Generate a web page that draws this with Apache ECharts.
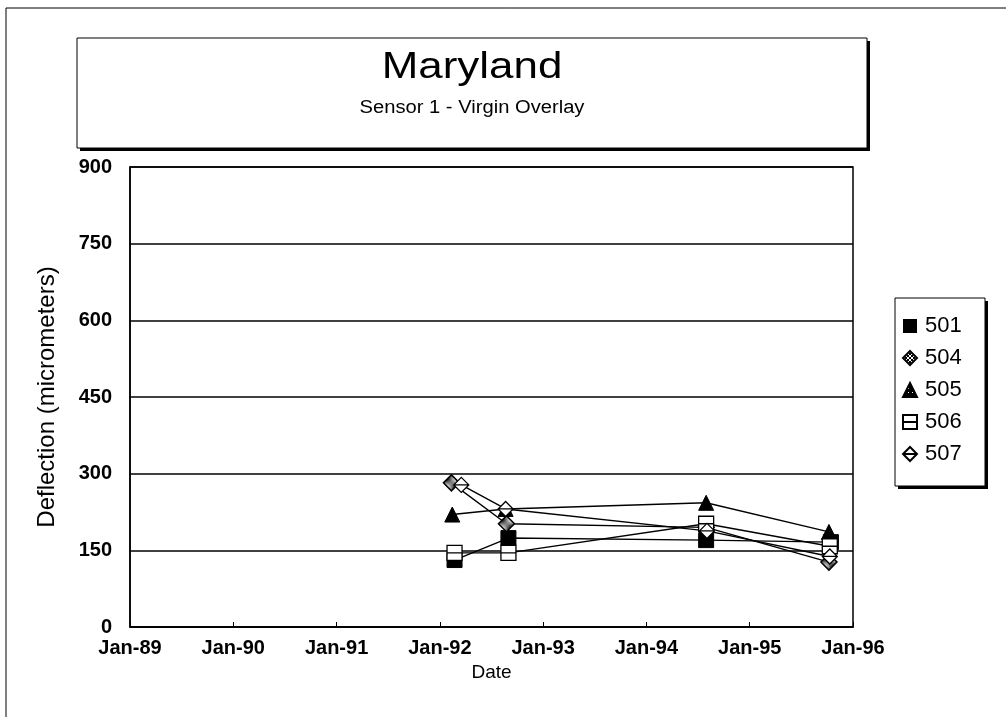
<!DOCTYPE html>
<html><head><meta charset="utf-8">
<script src="https://cdn.jsdelivr.net/npm/echarts@6/dist/echarts.min.js"></script>
<style>html,body{margin:0;padding:0;background:#fff}#c{width:1006px;height:717px}</style>
</head><body><div id="c"></div>
<script>
// ---- data ----
const seriesNames = ['501', '504', '505', '506', '507'];
const dates501 = ['1992-02-22', '1992-08-31', '1994-07-31', '1995-10-15'];
const values501 = [131, 174, 170, 166];
const dates504 = ['1992-02-11', '1992-08-24', '1994-07-31', '1995-10-08'];
const values504 = [282, 202, 195, 127];
const dates505 = ['1992-02-14', '1992-08-21', '1994-07-31', '1995-10-08'];
const values505 = [220, 231, 243, 186];
const dates506 = ['1992-02-22', '1992-08-31', '1994-07-31', '1995-10-11'];
const values506 = [145, 145, 202, 158];
const dates507 = ['1992-03-17', '1992-08-21', '1994-08-03', '1995-10-11'];
const values507 = [278, 231, 188, 138];
const xTickYears = [1989, 1990, 1991, 1992, 1993, 1994, 1995, 1996];
const yTicks = [0, 150, 300, 450, 600, 750, 900];

function toYear(s) {
  const d = Date.parse(s + 'T00:00:00Z');
  const y = new Date(d).getUTCFullYear();
  const a = Date.UTC(y, 0, 1), b = Date.UTC(y + 1, 0, 1);
  return y + (d - a) / (b - a);
}
function pts(dates, vals) { return dates.map((d, i) => [toYear(d), vals[i]]); }

function pattern(dark) {
  const c = document.createElement('canvas');
  c.width = 4; c.height = 4;
  const g = c.getContext('2d');
  g.fillStyle = dark ? '#000' : '#fff';
  g.fillRect(0, 0, 4, 4);
  g.fillStyle = dark ? '#fff' : '#000';
  if (dark) { g.fillRect(1, 1, 1, 1); }
  else { g.fillRect(0, 0, 2, 2); g.fillRect(2, 2, 2, 2); }
  return { image: c, repeat: 'repeat' };
}

const symSquareLine = 'path://M0,0 L10,0 L10,10 L0,10 Z M0,5 L10,5';
const symDiamondLine = 'path://M5,0 L10,5 L5,10 L0,5 Z M0,5 L10,5';

const font = '"Liberation Sans", Arial, sans-serif';
const chart = echarts.init(document.getElementById('c'));

const lineStyle = { color: '#000', width: 1.4 };
const series = [
  { name: '501', data: pts(dates501, values501), symbol: 'rect', symbolSize: 15,
    itemStyle: { color: '#000', borderColor: '#000' } },
  { name: '504', data: pts(dates504, values504), symbol: 'diamond', symbolSize: 16,
    itemStyle: { color: pattern(false), borderColor: '#000', borderWidth: 1.5 } },
  { name: '505', data: pts(dates505, values505), symbol: 'triangle', symbolSize: 15,
    itemStyle: { color: pattern(true), borderColor: '#000', borderWidth: 1 } },
  { name: '506', data: pts(dates506, values506), symbol: symSquareLine, symbolSize: 15,
    itemStyle: { color: '#fff', borderColor: '#000', borderWidth: 1.3 } },
  { name: '507', data: pts(dates507, values507), symbol: symDiamondLine, symbolSize: 15,
    itemStyle: { color: '#fff', borderColor: '#000', borderWidth: 1.3 } }
].map(s => Object.assign({ type: 'line', showSymbol: true, lineStyle: lineStyle, z: 3 }, s));

chart.setOption({
  animation: false,
  backgroundColor: '#fff',
  graphic: [
    { type: 'rect', shape: { x: 6, y: 8, width: 1020, height: 730 }, style: { fill: 'none', stroke: '#000', lineWidth: 1 }, silent: true },
    { type: 'rect', shape: { x: 80, y: 41, width: 790, height: 110 }, style: { fill: '#000' }, silent: true },
    { type: 'rect', shape: { x: 77, y: 38, width: 790, height: 110 }, style: { fill: '#fff', stroke: '#000', lineWidth: 1 }, silent: true },
    { type: 'text', x: 472, y: 68, scaleX: 1.22, style: { text: 'Maryland', x: 0, y: 0, align: 'center', verticalAlign: 'middle', font: '36px ' + font, fill: '#000' }, silent: true },
    { type: 'text', x: 472, y: 108, scaleX: 1.12, style: { text: 'Sensor 1 - Virgin Overlay', x: 0, y: 0, align: 'center', verticalAlign: 'middle', font: '18px ' + font, fill: '#000' }, silent: true },
    { type: 'rect', shape: { x: 898, y: 301, width: 90, height: 188 }, style: { fill: '#000' }, silent: true },
    { type: 'rect', shape: { x: 895, y: 298, width: 90, height: 188 }, style: { fill: '#fff', stroke: '#000', lineWidth: 1 }, silent: true }
  ],
  grid: { left: 130, right: 153, top: 167, bottom: 90, show: true, borderColor: '#000', borderWidth: 1.5, backgroundColor: '#fff' },
  legend: {
    orient: 'vertical', left: 902, top: 315, z: 10,
    data: [
      { name: '501', icon: 'rect' },
      { name: '504', icon: 'diamond' },
      { name: '505', icon: 'triangle' },
      { name: '506', icon: symSquareLine },
      { name: '507', icon: symDiamondLine }
    ],
    itemWidth: 14, itemHeight: 14, itemGap: 10,
    padding: 0,
    textStyle: { fontFamily: font, fontSize: 22, color: '#000', padding: [0, 0, 0, 3] }
  },
  xAxis: {
    type: 'value', min: xTickYears[0], max: xTickYears[xTickYears.length - 1], interval: 1,
    name: 'Date', nameLocation: 'middle', nameGap: 30,
    nameTextStyle: { fontFamily: font, fontSize: 19, color: '#000' },
    axisLine: { lineStyle: { color: '#000', width: 1.5 } },
    axisTick: { show: true, inside: true, length: 5, lineStyle: { color: '#000' } },
    splitLine: { show: false },
    axisLabel: { fontFamily: font, fontSize: 20, fontWeight: 'bold', color: '#000', margin: 11,
      formatter: v => 'Jan-' + String(Math.round(v)).slice(2) }
  },
  yAxis: {
    type: 'value', min: yTicks[0], max: yTicks[yTicks.length - 1], interval: 150,
    name: 'Deflection (micrometers)', nameLocation: 'middle', nameGap: 71,
    nameTextStyle: { fontFamily: font, fontSize: 24, color: '#000' },
    axisLine: { show: true, lineStyle: { color: '#000', width: 1.5 } },
    axisTick: { show: false },
    splitLine: { show: true, lineStyle: { color: '#000', width: 1.5 } },
    axisLabel: { fontFamily: font, fontSize: 20, fontWeight: 'bold', color: '#000', margin: 18 }
  },
  series: series
});
</script>
</body></html>
